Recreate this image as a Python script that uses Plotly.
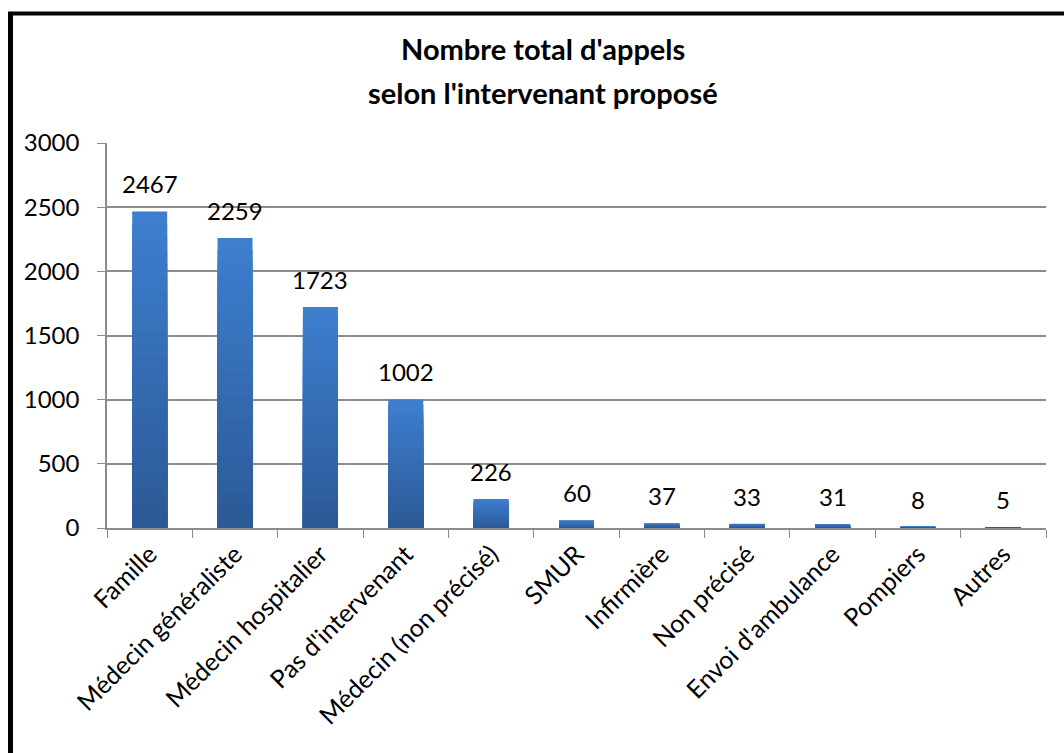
import plotly.graph_objects as go

categories = ["Famille", "Médecin généraliste", "Médecin hospitalier", "Pas d'intervenant",
              "Médecin (non précisé)", "SMUR", "Infirmière", "Non précisé",
              "Envoi d'ambulance", "Pompiers", "Autres"]
values = [2467, 2259, 1723, 1002, 226, 60, 37, 33, 31, 8, 5]
y_ticks = [0, 500, 1000, 1500, 2000, 2500, 3000]
title_lines = ["Nombre total d'appels", "selon l'intervenant proposé"]

FONT = "Lato, 'Open Sans', sans-serif"
W, H = 1064, 753
L, R, T, B = 107, 18, 143, 225
pw, ph = W - L - R, H - T - B

top_rgb = (61, 127, 208)
bot_rgb = (44, 89, 150)

fig = go.Figure()
N = 24
for k in range(N):
    f = 1 - k / N
    mid = 1 - (k + 0.5) / N
    c = tuple(int(round(b + (t - b) * mid)) for t, b in zip(top_rgb, bot_rgb))
    fig.add_trace(go.Bar(
        x=categories, y=[v * f for v in values], width=0.41,
        marker=dict(color="rgb(%d,%d,%d)" % c, line=dict(width=0)),
        showlegend=False, hoverinfo="skip" if k else "x+y",
    ))

for cat, v in zip(categories, values):
    fig.add_annotation(x=cat, y=v, text=str(v), showarrow=False,
                       yanchor="bottom", yshift=11,
                       font=dict(family=FONT, size=24, color="#000"))

def px_x(p):
    return (p - L) / pw

def px_y(p):
    return (H - B - p) / ph

for i, line in enumerate(title_lines):
    fig.add_annotation(xref="paper", yref="paper", x=px_x(543), y=px_y(49 + 43 * i),
                       text="<b>%s</b>" % line, showarrow=False,
                       xanchor="center", yanchor="middle",
                       font=dict(family=FONT, size=29, color="#000"))

# outer frame (left and top edges)
fig.add_shape(type="line", xref="paper", yref="paper",
              x0=px_x(10.5), x1=px_x(10.5), y0=px_y(13.5), y1=px_y(H + 5),
              line=dict(color="#000", width=5))
fig.add_shape(type="line", xref="paper", yref="paper",
              x0=px_x(8), x1=px_x(W + 5), y0=px_y(13.5), y1=px_y(13.5),
              line=dict(color="#000", width=4))

fig.update_layout(
    width=W, height=H, barmode="overlay",
    margin=dict(l=L, r=R, t=T, b=B, pad=0),
    paper_bgcolor="white", plot_bgcolor="white",
    font=dict(family=FONT, size=24, color="#000"),
    xaxis=dict(type="category", tickangle=-45, tickson="boundaries",
               ticks="outside", ticklen=8, tickcolor="#8c8c8c",
               showline=True, linecolor="#8c8c8c", linewidth=1.5,
               showgrid=False, tickfont=dict(size=25)),
    yaxis=dict(range=[0, 3000], tickvals=y_ticks, ticks="outside", ticklen=8,
               tickcolor="#8c8c8c", showline=True, linecolor="#8c8c8c", linewidth=1.5,
               showgrid=True, gridcolor="#8c8c8c", gridwidth=1.5,
               zeroline=False, ticklabelstandoff=13, tickfont=dict(size=24)),
)

fig.write_html("out.html")
